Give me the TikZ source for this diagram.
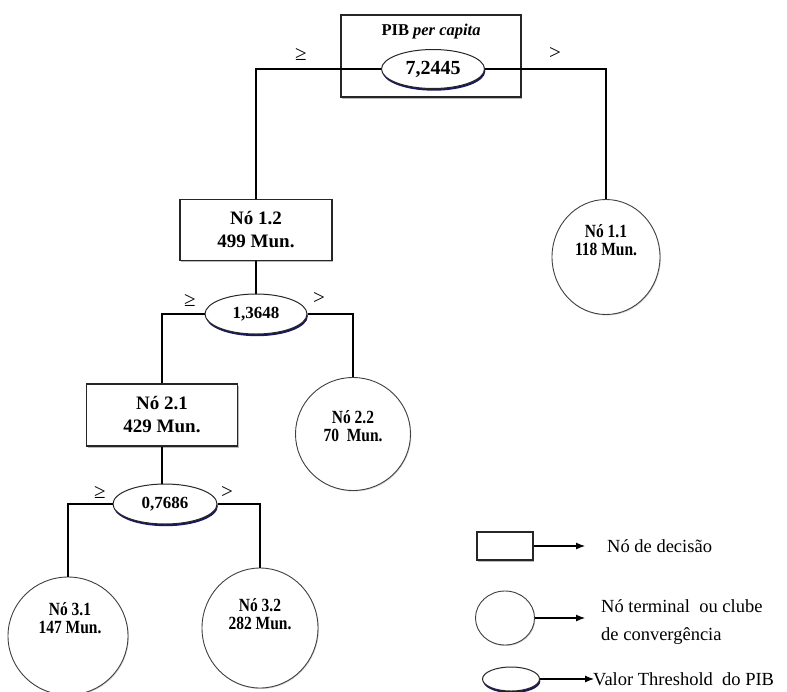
\documentclass[tikz,border=0pt]{standalone}
\usepackage{fontspec}
\usepackage{graphicx}
\setmainfont{Liberation Serif}
\usetikzlibrary{arrows.meta,shapes.geometric,shadows}
\newcommand{\talltxt}[1]{\scalebox{1}[1.2]{#1}}
\begin{document}
\begin{tikzpicture}[x=1pt,y=-1pt,
  conn/.style={line width=1.8pt, black},
  decbox/.style={rectangle, draw=black!85, line width=1.1pt, fill=white, inner sep=0pt,
     align=center, font=\bfseries\fontsize{19}{23}\selectfont,
     drop shadow={shadow xshift=1pt, shadow yshift=-1.5pt, fill=black!45, opacity=0.6}},
  thresh/.style={ellipse, draw=black!85, line width=1pt, fill=white, inner sep=0pt,
     font=\bfseries\fontsize{17}{20}\selectfont,
     drop shadow={shadow xshift=0.8pt, shadow yshift=-2.2pt, fill=blue!30!black, opacity=0.9}},
  term/.style={ellipse, draw=black!75, line width=0.9pt, fill=white, inner sep=0pt,
     drop shadow={shadow xshift=0.8pt, shadow yshift=-1pt, fill=black!35, opacity=0.5}},
  termtxt/.style={align=center, font=\bfseries\fontsize{15.5}{18.5}\selectfont, inner sep=0pt},
  rel/.style={font=\fontsize{21}{24}\selectfont, inner sep=0pt},
  legarrow/.style={line width=1.1pt, -{Latex[length=9pt,width=7pt]}},
  legtxt/.style={font=\fontsize{18.5}{28}\selectfont, inner sep=0pt, align=left}
]
\useasboundingbox (0,0) rectangle (787,691);
\clip (0,0) rectangle (787,691);

% top decision box
\node[decbox, minimum width=180pt, minimum height=82pt] (PIBbox) at (431,56) {};
\node[font=\bfseries\fontsize{16.5}{18}\selectfont, inner sep=0pt] (PIBtxt) at (431,32) {PIB \textit{per capita}};

% nodes
\node[decbox, minimum width=152pt, minimum height=61pt] (N12) at (256,230) {Nó 1.2\\499 Mun.};
\node[decbox, minimum width=151pt, minimum height=62pt] (N21) at (162,415) {Nó 2.1\\429 Mun.};

\node[term, minimum width=108pt, minimum height=115pt] (N11) at (606,257) {};
\node[term, minimum width=115pt, minimum height=113pt] (N22) at (353,434) {};
\node[term, minimum width=120pt, minimum height=118pt] (N31) at (68,636) {};
\node[term, minimum width=116pt, minimum height=120pt] (N32) at (260,628) {};

\node[termtxt] (T11) at (606,240) {\talltxt{Nó 1.1}\\\talltxt{118 Mun.}};
\node[termtxt] (T22) at (353,426) {\talltxt{Nó 2.2}\\\talltxt{70 \ Mun.}};
\node[termtxt] (T31) at (70,618) {\talltxt{Nó 3.1}\\\talltxt{147 Mun.}};
\node[termtxt] (T32) at (260,614) {\talltxt{Nó 3.2}\\\talltxt{282 Mun.}};

\node[thresh, minimum width=103pt, minimum height=39pt, font=\bfseries\fontsize{20}{22}\selectfont] (E0) at (433,69) {7,2445};
\node[thresh, minimum width=102pt, minimum height=40pt] (E1) at (256,314) {1,3648};
\node[thresh, minimum width=104pt, minimum height=40pt] (E2) at (165,504) {0,7686};

% connectors
\draw[conn] (N12.south) -- (N12.south |- E1.north);
\draw[conn] (N21.south) -- (N21.south |- E2.north);
\draw[conn] (E0.west) -| (N12.north);
\draw[conn] (E0.east) -| (N11.north);
\draw[conn] (E1.west) -| (N21.north);
\draw[conn] (E1.east) -| (N22.north);
\draw[conn] (E2.west) -| (N31.north);
\draw[conn] (E2.east) -| (N32.north);

% relation labels
\node[rel] (g0) at (301,54) {≥};
\node[rel] (r0) at (555,53) {>};
\node[rel] (g1) at (190,300) {≥};
\node[rel] (r1) at (319,298) {>};
\node[rel] (g2) at (100,492) {≥};
\node[rel] (r2) at (227,492) {>};

% legend
\node[decbox, minimum width=56pt, minimum height=28pt] (LR) at (505,546) {};
\coordinate (LRend) at (585,546);
\draw[legarrow] (LR.east) -- (LRend);
\node[legtxt, anchor=west] (LRtxt) at (607,546) {Nó de decisão};

\node[term, minimum width=59pt, minimum height=54pt] (LC) at (505,618) {};
\coordinate (LCend) at (585,618);
\draw[legarrow] (LC.east) -- (LCend);
\node[legtxt, anchor=west] (LCtxt) at (601,622) {Nó terminal \ ou clube\\de convergência};

\node[thresh, minimum width=57pt, minimum height=24pt] (LE) at (511,679) {};
\coordinate (LEend) at (594,679);
\draw[legarrow] (LE.east) -- (LEend);
\node[legtxt, anchor=west] (LEtxt) at (593,679) {Valor Threshold \ do PIB};
\end{tikzpicture}
\end{document}
